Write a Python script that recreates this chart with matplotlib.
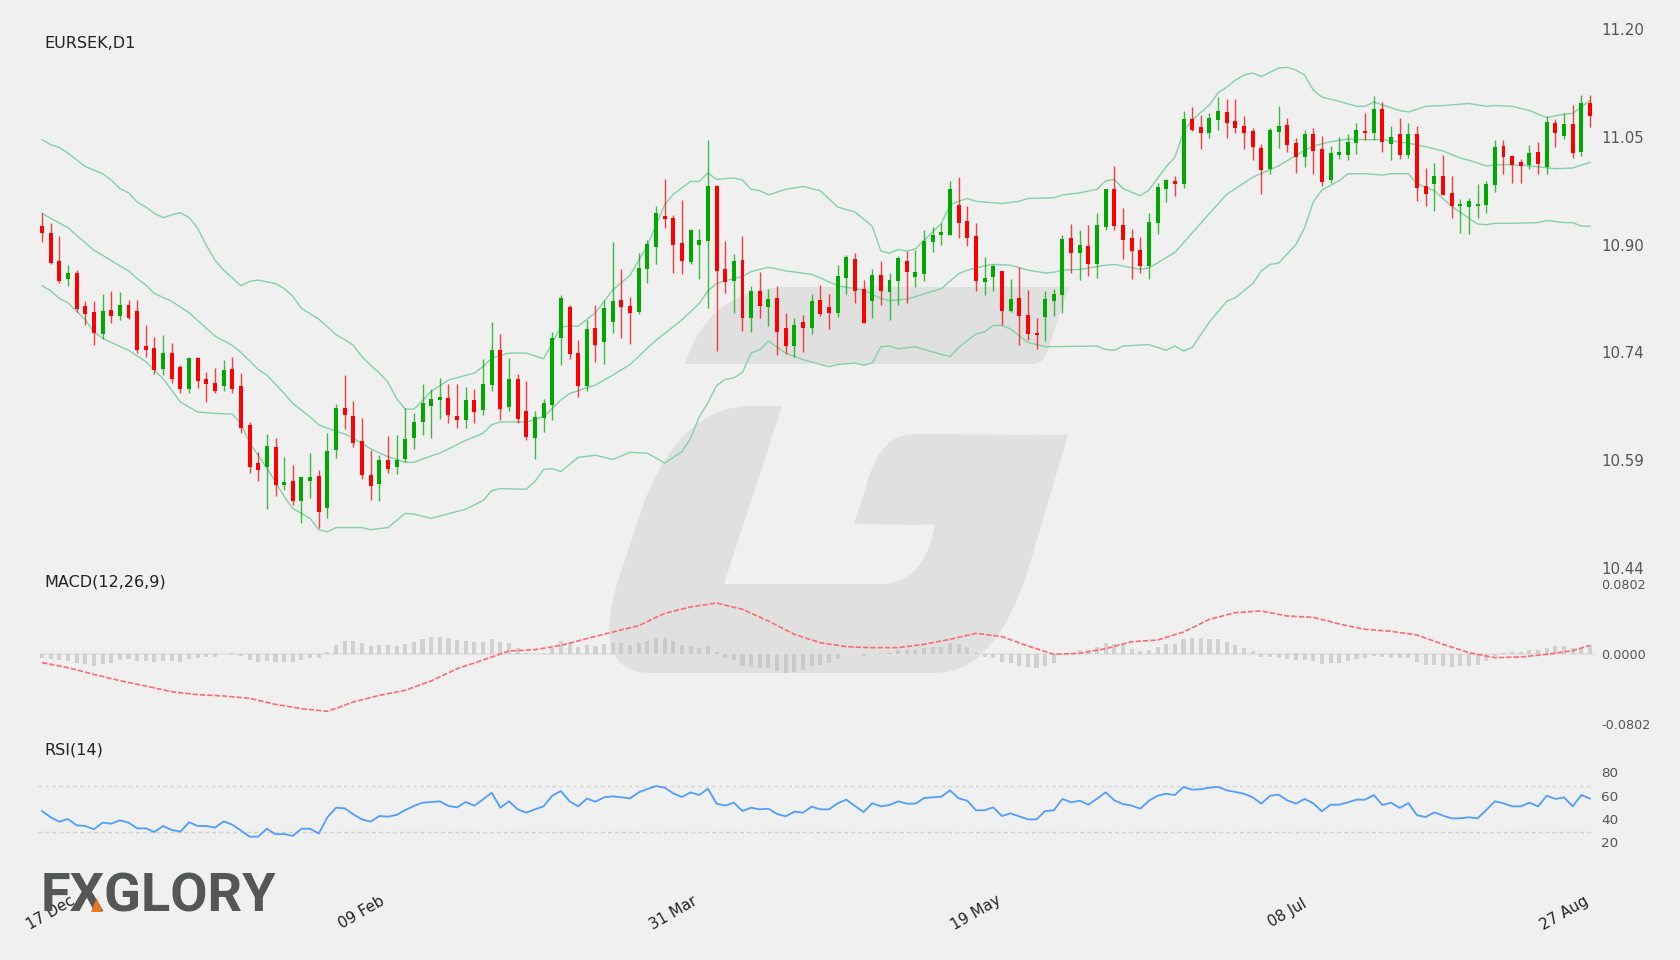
import numpy as np
import matplotlib
matplotlib.use("Agg")
import matplotlib.pyplot as plt
from matplotlib.patches import PathPatch, Polygon
from matplotlib.path import Path
from matplotlib.ticker import FormatStrFormatter

opens = [
    10.922,10.912,10.873,10.848,10.856,10.809,10.801,10.770,10.804,10.796,
    10.811,10.802,10.753,10.750,10.720,10.743,10.723,10.692,10.736,10.706,
    10.701,10.697,10.720,10.696,10.642,10.588,10.582,10.610,10.557,10.562,
    10.534,10.563,10.570,10.524,10.606,10.666,10.655,10.619,10.571,10.559,
    10.592,10.582,10.594,10.624,10.646,10.669,10.677,10.679,10.654,10.648,
    10.677,10.663,10.698,10.748,10.667,10.706,10.661,10.624,10.652,10.670,
    10.764,10.808,10.743,10.696,10.778,10.759,10.787,10.818,10.809,10.801,
    10.861,10.892,10.936,10.934,10.898,10.872,10.896,10.901,10.979,10.861,
    10.844,10.874,10.793,10.830,10.808,10.821,10.778,10.753,10.787,10.778,
    10.818,10.808,10.799,10.849,10.876,10.833,10.816,10.853,10.829,10.845,
    10.873,10.850,10.854,10.899,10.910,10.910,10.952,10.929,10.908,10.843,
    10.850,10.859,10.803,10.820,10.797,10.771,10.794,10.816,10.825,10.905,
    10.884,10.894,10.869,10.921,10.975,10.924,10.906,10.889,10.866,10.926,
    10.975,10.985,10.981,11.073,11.062,11.053,11.072,11.083,11.070,11.063,
    11.056,11.032,11.002,11.055,11.064,11.039,11.019,11.052,11.031,10.987,
    11.022,11.022,11.039,11.056,11.053,11.087,11.038,11.052,11.023,11.052,
    10.978,10.982,10.993,10.969,10.950,10.949,10.950,10.952,10.980,11.035,
    11.021,11.012,11.008,11.027,11.005,11.067,11.049,11.066,11.027,11.096,
]
closes = [
    10.912,10.870,10.844,10.856,10.805,10.798,10.772,10.803,10.795,10.811,
    10.793,10.748,10.748,10.719,10.743,10.707,10.692,10.736,10.704,10.699,
    10.690,10.719,10.693,10.637,10.582,10.578,10.612,10.557,10.561,10.535,
    10.568,10.568,10.519,10.605,10.666,10.656,10.616,10.571,10.555,10.592,
    10.579,10.592,10.622,10.646,10.672,10.678,10.681,10.656,10.648,10.677,
    10.660,10.700,10.747,10.664,10.707,10.650,10.625,10.653,10.672,10.765,
    10.820,10.742,10.696,10.777,10.755,10.807,10.817,10.808,10.800,10.863,
    10.897,10.941,10.932,10.896,10.873,10.917,10.903,10.978,10.859,10.843,
    10.873,10.793,10.830,10.810,10.819,10.773,10.753,10.782,10.778,10.817,
    10.798,10.799,10.852,10.878,10.831,10.785,10.853,10.831,10.846,10.877,
    10.857,10.857,10.901,10.910,10.914,10.974,10.927,10.906,10.845,10.849,
    10.866,10.803,10.819,10.796,10.770,10.769,10.819,10.826,10.904,10.884,
    10.896,10.869,10.924,10.975,10.922,10.902,10.887,10.866,10.928,10.977,
    10.987,10.982,11.073,11.057,11.054,11.074,11.084,11.067,11.060,11.053,
    11.034,11.001,11.058,11.063,11.037,11.019,11.052,11.028,10.984,11.025,
    11.027,11.040,11.057,11.054,11.087,11.040,11.048,11.023,11.052,10.976,
    10.968,10.993,10.966,10.950,10.953,10.957,10.953,10.981,11.033,11.020,
    11.008,11.007,11.025,11.010,11.069,11.054,11.066,11.025,11.095,11.077,
]
highs = [
    10.941,10.927,10.908,10.867,10.860,10.817,10.816,10.827,10.830,10.829,
    10.818,10.818,10.782,10.766,10.768,10.757,10.726,10.737,10.737,10.716,
    10.722,10.733,10.738,10.715,10.646,10.603,10.629,10.623,10.597,10.585,
    10.568,10.602,10.578,10.631,10.671,10.712,10.676,10.651,10.606,10.600,
    10.626,10.628,10.666,10.659,10.700,10.693,10.708,10.699,10.699,10.695,
    10.693,10.735,10.787,10.770,10.736,10.714,10.704,10.661,10.678,10.773,
    10.825,10.811,10.762,10.789,10.811,10.818,10.899,10.861,10.822,10.884,
    10.903,10.951,10.989,10.938,10.959,10.918,10.918,11.044,10.980,10.901,
    10.883,10.908,10.838,10.857,10.833,10.838,10.800,10.793,10.797,10.827,
    10.839,10.827,10.867,10.882,10.884,10.846,10.862,10.873,10.856,10.880,
    10.887,10.888,10.916,10.921,10.927,10.985,10.991,10.950,10.926,10.878,
    10.869,10.859,10.847,10.865,10.832,10.792,10.831,10.833,10.909,10.925,
    10.916,10.924,10.940,10.975,11.007,10.948,10.918,10.907,10.940,10.983,
    10.989,10.993,11.085,11.090,11.079,11.082,11.104,11.101,11.102,11.077,
    11.061,11.038,11.061,11.092,11.075,11.047,11.057,11.060,11.049,11.035,
    11.048,11.052,11.068,11.082,11.106,11.097,11.063,11.074,11.068,11.063,
    11.004,11.011,11.022,10.993,10.960,10.962,10.982,10.986,11.044,11.043,
    11.022,11.016,11.036,11.040,11.078,11.073,11.081,11.093,11.107,11.107,
]
lows = [
    10.899,10.869,10.842,10.837,10.801,10.782,10.755,10.763,10.786,10.790,
    10.791,10.743,10.738,10.714,10.712,10.701,10.687,10.687,10.694,10.674,
    10.687,10.689,10.687,10.631,10.574,10.563,10.523,10.542,10.550,10.529,
    10.503,10.538,10.497,10.510,10.595,10.636,10.611,10.566,10.536,10.534,
    10.574,10.573,10.589,10.608,10.628,10.624,10.650,10.645,10.637,10.637,
    10.645,10.656,10.689,10.648,10.661,10.645,10.620,10.594,10.632,10.648,
    10.726,10.735,10.681,10.690,10.731,10.727,10.771,10.764,10.756,10.798,
    10.842,10.869,10.919,10.856,10.855,10.868,10.847,10.806,10.746,10.828,
    10.799,10.774,10.773,10.792,10.781,10.741,10.742,10.738,10.745,10.770,
    10.795,10.777,10.794,10.827,10.814,10.785,10.792,10.811,10.789,10.811,
    10.813,10.836,10.844,10.886,10.896,10.910,10.906,10.894,10.830,10.825,
    10.830,10.782,10.801,10.754,10.762,10.749,10.760,10.796,10.799,10.856,
    10.846,10.852,10.849,10.916,10.916,10.876,10.848,10.856,10.848,10.911,
    10.956,10.965,10.976,11.056,11.031,11.047,11.058,11.047,11.053,11.031,
    11.015,10.968,10.995,11.032,11.027,10.997,11.006,10.996,10.978,10.983,
    11.017,11.015,11.024,11.044,11.044,11.027,11.015,11.017,11.018,10.958,
    10.950,10.943,10.966,10.934,10.912,10.911,10.933,10.941,10.970,10.996,
    10.983,10.983,11.003,10.996,10.996,11.034,11.045,11.018,11.021,11.062,
]

# bands were read at the days where they visibly bend
upper_days = [
    0,1,2,3,5,7,8,9,10,11,12,13,14,15,16,17,18,19,20,21,23,24,25,27,28,29,30,32,33,34,35,36,37,38,39,40,41,42,43,44,45,
    47,50,51,52,54,56,58,60,61,62,64,66,68,70,72,73,75,76,77,78,80,81,82,83,84,86,88,90,
    92,94,96,97,98,99,100,101,103,104,105,106,107,108,111,113,114,117,118,120,122,123,124,125,127,128,130,131,132,133,135,
    136,137,138,139,140,141,143,144,145,146,147,148,150,152,153,154,157,158,160,162,165,167,168,170,172,174,176,177,179,
]
bb_upper = [
    11.044,11.037,11.033,11.025,11.006,10.996,10.987,10.975,10.969,10.956,10.949,10.940,10.934,10.938,10.941,10.934,10.919,10.895,10.874,10.860,
    10.838,10.844,10.846,10.841,10.834,10.823,10.806,10.791,10.780,10.769,10.762,10.754,10.738,10.726,10.715,10.702,10.679,10.664,10.664,10.676,10.689,
    10.705,10.715,10.724,10.736,10.743,10.743,10.735,10.780,10.781,10.781,10.800,10.832,10.853,10.895,10.952,10.967,10.985,10.985,10.997,10.988,
    10.990,10.987,10.974,10.972,10.966,10.974,10.978,10.972,
    10.949,10.942,10.922,10.887,10.884,10.889,10.887,10.890,10.914,10.926,10.952,10.957,10.961,10.957,10.954,10.957,10.961,10.962,10.966,10.969,
    10.974,10.986,10.988,10.975,10.965,10.973,11.006,11.019,11.055,11.072,11.093,
    11.110,11.118,11.128,11.135,11.138,11.133,11.145,11.146,11.142,11.135,11.114,11.104,11.098,11.091,11.091,11.097,11.085,11.083,11.091,11.092,
    11.095,11.091,11.092,11.091,11.085,11.075,11.080,11.081,11.099,
]
middle_days = [
    0,1,3,4,6,7,9,10,11,12,13,15,17,18,20,22,23,25,26,28,29,31,32,33,35,36,38,40,42,43,45,
    46,49,51,52,53,56,58,60,61,64,66,68,70,71,74,76,77,78,79,81,82,84,86,89,90,
    92,95,97,98,100,104,106,107,109,110,112,114,116,117,118,120,123,124,127,128,131,135,
    137,140,143,146,147,149,151,153,155,158,160,162,164,165,167,169,172,175,177,179,
]
bb_middle = [
    10.940,10.933,10.920,10.909,10.888,10.881,10.866,10.859,10.848,10.839,10.827,10.816,10.800,10.789,10.767,10.754,10.744,10.720,10.712,10.686,
    10.672,10.653,10.642,10.637,10.629,10.623,10.608,10.597,10.589,10.589,10.598,
    10.602,10.620,10.630,10.642,10.646,10.646,10.653,10.677,10.686,10.698,10.712,10.727,10.750,10.761,10.790,10.813,10.831,10.841,10.845,10.851,
    10.858,10.864,10.859,10.854,10.849,
    10.838,10.832,10.820,10.817,10.819,10.834,10.855,10.860,10.866,10.868,10.867,10.860,10.856,10.857,10.860,10.861,10.867,10.868,10.861,10.863,
    10.885,10.940,
    10.967,10.991,11.007,11.029,11.035,11.041,11.045,11.044,11.044,11.039,11.034,11.028,11.018,11.015,11.007,11.009,11.007,11.003,11.004,11.012,
]
lower_days = [
    0,1,2,3,5,6,7,8,10,12,14,16,18,20,22,23,24,25,26,28,29,31,32,33,34,37,38,40,42,43,45,
    49,51,52,53,56,57,58,59,60,62,64,66,68,70,72,74,75,76,77,78,79,80,81,82,83,84,86,88,90,
    91,92,94,95,96,97,98,99,101,102,105,106,108,109,110,111,112,114,116,122,123,124,125,128,130,131,132,133,135,
    137,138,140,141,142,143,145,146,147,148,150,151,153,155,156,158,159,161,163,166,167,168,170,173,174,176,177,178,179,
]
bb_lower = [
    10.838,10.831,10.820,10.814,10.790,10.773,10.764,10.758,10.747,10.731,10.707,10.674,10.660,10.658,10.657,10.644,10.616,10.599,10.581,10.541,
    10.524,10.510,10.494,10.491,10.497,10.497,10.494,10.497,10.517,10.516,10.510,
    10.523,10.535,10.549,10.552,10.551,10.562,10.579,10.580,10.576,10.596,10.599,10.593,10.603,10.602,10.588,10.604,10.623,10.653,10.673,10.697,
    10.706,10.708,10.716,10.743,10.748,10.760,10.743,10.734,10.727,
    10.724,10.727,10.729,10.726,10.729,10.752,10.753,10.749,10.752,10.748,10.738,10.751,10.770,10.773,10.782,10.782,10.777,10.758,10.752,10.753,
    10.748,10.747,10.753,10.755,10.747,10.753,10.746,10.751,10.787,
    10.816,10.821,10.841,10.859,10.868,10.870,10.896,10.920,10.956,10.973,10.986,10.996,10.996,10.994,10.996,10.996,10.982,10.972,10.950,10.925,
    10.924,10.926,10.926,10.927,10.930,10.927,10.927,10.922,10.922,
]

macd_days = [*range(0, 178, 3), 179]
macd_line = [
    -0.0099,-0.0157,-0.0233,-0.0306,-0.0367,-0.0432,-0.0466,-0.0481,-0.0508,-0.0577,
    -0.0626,-0.0657,-0.0550,-0.0474,-0.0416,-0.0309,-0.0168,-0.0069,0.0034,0.0050,
    0.0099,0.0176,0.0252,0.0325,0.0466,0.0539,0.0584,0.0512,0.0378,0.0225,
    0.0130,0.0084,0.0073,0.0073,0.0111,0.0168,0.0237,0.0199,0.0092,-0.0004,
    0.0008,0.0061,0.0141,0.0160,0.0252,0.0397,0.0474,0.0493,0.0435,0.0420,
    0.0344,0.0283,0.0260,0.0218,0.0111,0.0015,-0.0042,-0.0034,-0.0004,0.0038,
    0.0099,
]
macd_hist = [
    -0.0042,-0.0061,-0.0073,-0.0080,-0.0099,-0.0118,-0.0134,-0.0118,-0.0099,-0.0069,
    -0.0061,-0.0084,-0.0084,-0.0092,-0.0084,-0.0084,-0.0092,-0.0053,-0.0042,-0.0038,
    -0.0034,0.0000,0.0011,-0.0023,-0.0073,-0.0092,-0.0076,-0.0092,-0.0096,-0.0096,
    -0.0069,-0.0046,-0.0042,0.0019,0.0103,0.0149,0.0149,0.0122,0.0096,0.0099,
    0.0099,0.0092,0.0115,0.0141,0.0176,0.0199,0.0199,0.0180,0.0157,0.0149,
    0.0134,0.0141,0.0168,0.0134,0.0122,0.0073,0.0015,0.0000,0.0015,0.0073,
    0.0149,0.0138,0.0084,0.0107,0.0092,0.0111,0.0122,0.0122,0.0103,0.0122,
    0.0153,0.0187,0.0187,0.0149,0.0103,0.0096,0.0065,0.0088,0.0019,-0.0050,
    -0.0069,-0.0134,-0.0153,-0.0164,-0.0164,-0.0195,-0.0214,-0.0206,-0.0187,-0.0141,
    -0.0122,-0.0107,-0.0061,0.0000,0.0000,-0.0023,0.0000,0.0008,0.0015,0.0042,
    0.0042,0.0046,0.0069,0.0084,0.0084,0.0130,0.0111,0.0084,0.0015,-0.0038,
    -0.0042,-0.0092,-0.0107,-0.0138,-0.0149,-0.0164,-0.0138,-0.0099,-0.0004,0.0015,
    0.0050,0.0050,0.0084,0.0130,0.0118,0.0111,0.0061,0.0031,0.0042,0.0084,
    0.0111,0.0115,0.0168,0.0180,0.0180,0.0168,0.0168,0.0141,0.0103,0.0073,
    0.0031,-0.0038,-0.0038,-0.0042,-0.0057,-0.0073,-0.0073,-0.0080,-0.0118,-0.0107,
    -0.0103,-0.0084,-0.0057,-0.0050,-0.0027,-0.0038,-0.0046,-0.0050,-0.0050,-0.0088,
    -0.0126,-0.0122,-0.0138,-0.0145,-0.0141,-0.0138,-0.0122,-0.0084,-0.0023,0.0008,
    0.0019,0.0027,0.0042,0.0042,0.0073,0.0092,0.0092,0.0073,0.0073,0.0099,
]
rsi = [
    48.3,42.9,39.1,41.4,36.0,35.4,32.6,38.3,37.4,40.3,
    38.3,33.4,33.4,30.3,35.4,32.0,30.6,38.6,35.4,35.4,
    34.0,39.4,36.6,31.4,26.3,26.3,33.1,28.3,28.6,26.9,
    33.1,33.1,28.9,42.9,51.1,50.6,45.4,41.1,39.1,44.0,
    43.4,44.9,49.1,52.6,55.4,56.0,56.6,52.6,51.4,56.0,
    52.9,58.3,64.0,51.1,56.6,49.7,46.9,49.7,52.3,61.4,
    65.4,56.6,52.3,58.9,56.3,60.0,60.9,60.0,59.1,64.3,
    67.1,69.7,68.3,63.4,60.3,64.3,62.0,67.4,54.6,52.9,
    55.4,48.3,51.1,49.7,50.3,45.7,43.7,47.7,46.9,52.0,
    49.7,49.7,54.9,58.0,52.6,47.4,54.9,52.3,53.4,56.6,
    54.6,54.6,59.4,60.0,60.6,66.0,59.1,57.1,48.9,48.9,
    51.4,44.0,46.3,43.7,41.1,41.1,48.3,48.9,58.6,55.7,
    57.1,53.7,58.9,64.3,57.4,54.3,52.9,50.3,57.1,61.4,
    63.1,62.0,68.9,66.6,66.9,68.3,68.9,66.0,64.6,63.1,
    60.0,54.6,61.4,62.3,57.4,54.6,58.6,54.9,48.0,53.7,
    53.7,55.7,58.0,58.0,62.0,53.4,55.4,50.9,55.1,44.6,
    43.1,47.1,44.3,42.0,42.0,42.9,42.0,49.1,56.6,54.9,
    52.3,52.3,55.4,52.3,61.4,58.6,60.0,52.3,62.0,58.9,
]
date_ticks = [1, 37, 73, 108, 144, 176]
date_labels = ["17 Dec", "09 Feb", "31 Mar", "19 May", "08 Jul", "27 Aug"]
price_ticks = np.linspace(10.44, 11.20, 6)
macd_ticks = [-0.0802, 0.0, 0.0802]
rsi_ticks = [20, 40, 60, 80]

BG = "#f0f0f0"
TEXT = "#222222"
TICK = "#555555"
WIDTH, HEIGHT = 1680, 960


def pixel_axes(fig, top, bottom, left=37.7, right=1594.3, **kw):
    return fig.add_axes(
        [left / WIDTH, 1 - bottom / HEIGHT, (right - left) / WIDTH, (bottom - top) / HEIGHT],
        **kw,
    )


def setup_panel(ax, ticks):
    ax.set_facecolor("none")
    ax.set_xlim(-0.5, 179.5)
    for spine in ax.spines.values():
        spine.set_visible(False)
    ax.yaxis.tick_right()
    ax.set_yticks(ticks)
    ax.set_xticks([])
    ax.tick_params(axis="both", length=0, colors=TICK, pad=5.0)


def draw_watermark(ax):
    M, L, C, Z = Path.MOVETO, Path.LINETO, Path.CURVE4, Path.CLOSEPOLY
    top_verts = [
        (685, 364), (700, 315), (735, 287), (790, 287), (1069, 287), (1047, 352),
        (1044, 360), (1040, 364), (1030, 364), (685, 364),
    ]
    top_codes = [M, C, C, C, L, L, C, C, C, Z]
    low_verts = [
        (782, 406), (745, 406), (695, 410), (665, 450), (645, 500), (618, 580),
        (600, 640), (610, 673), (650, 673), (935, 673), (985, 673), (1010, 620),
        (1025, 580), (1068, 435), (915, 434), (885, 434), (873, 460), (865, 490),
        (854, 524), (935, 525), (930, 545), (920, 570), (905, 584), (880, 584),
        (724, 584), (782, 406),
    ]
    low_codes = [M, L, C, C, C, L, C, C, C, L, C, C, C, L, L, C, C, C, L, L, L, C, C, C, L, Z]
    path = Path(top_verts + low_verts, top_codes + low_codes)
    ax.add_patch(PathPatch(path, facecolor="#e0e0e0", edgecolor="none"))


def main():
    fig = plt.figure(figsize=(WIDTH / 100, HEIGHT / 100), dpi=100, facecolor=BG)

    back = fig.add_axes([0, 0, 1, 1], zorder=-1)
    back.set_xlim(0, WIDTH)
    back.set_ylim(HEIGHT, 0)
    back.axis("off")
    draw_watermark(back)

    days = np.arange(len(closes))
    o, h, l, c = map(np.array, (opens, highs, lows, closes))
    colors = np.where(c >= o, "#00a800", "#ff0000")

    ax = pixel_axes(fig, 29, 568)
    setup_panel(ax, price_ticks)
    ax.set_ylim(10.44, 11.20)
    ax.yaxis.set_major_formatter(FormatStrFormatter("%.2f"))
    ax.tick_params(axis="y", labelsize=10.8)
    ax.plot(upper_days, bb_upper, color="#82d2a5", lw=1.0, zorder=1)
    ax.plot(middle_days, bb_middle, color="#82d2a5", lw=1.0, zorder=1)
    ax.plot(lower_days, bb_lower, color="#82d2a5", lw=1.0, zorder=1)
    ax.vlines(days, l, h, colors=colors, lw=1.0, alpha=0.75, zorder=2)
    ax.bar(days, np.abs(c - o), bottom=np.minimum(o, c), width=0.46, color=colors, zorder=3)

    ax_macd = pixel_axes(fig, 584, 724)
    setup_panel(ax_macd, macd_ticks)
    ax_macd.set_ylim(-0.0802, 0.0802)
    ax_macd.yaxis.set_major_formatter(FormatStrFormatter("%.4f"))
    ax_macd.tick_params(axis="y", labelsize=9.2)
    ax_macd.axhline(0, xmin=0.002, color="#e2e2e2", lw=1.3, zorder=1)
    ax_macd.bar(days, macd_hist, width=0.47, color="#b8b8b8", alpha=0.55, zorder=1)
    ax_macd.plot(macd_days, macd_line, color="#ff6a70", lw=1.2, ls=(0, (3.2, 1.2)), zorder=2)

    # guide lines sit a little under where the tick labels would put them
    ax_rsi = pixel_axes(fig, 768.2, 846.3)
    setup_panel(ax_rsi, [t + 1.5 for t in rsi_ticks])
    ax_rsi.set_yticklabels(rsi_ticks)
    ax_rsi.set_ylim(18, 85)
    ax_rsi.tick_params(axis="y", labelsize=9.7)
    ax_rsi.axhline(70, color="#d4d4d4", lw=1.0, ls=(0, (2.5, 2.5)))
    ax_rsi.axhline(30, color="#d0d0d0", lw=1.0, ls=(0, (3, 2)))
    ax_rsi.plot(days, rsi, color="#4f9dff", lw=1.3)
    ax_rsi.set_xticks(date_ticks)
    ax_rsi.set_xticklabels(date_labels, rotation=30, ha="center", va="center", fontsize=10.8, color=TEXT)
    ax_rsi.tick_params(axis="x", pad=48)

    fig.text(44 / WIDTH, 1 - 43.5 / HEIGHT, "EURSEK,D1", fontsize=11.5, color=TEXT, va="center")
    fig.text(44 / WIDTH, 1 - 582 / HEIGHT, "MACD(12,26,9)", fontsize=11.5, color=TEXT, va="center")
    fig.text(44 / WIDTH, 1 - 750 / HEIGHT, "RSI(14)", fontsize=11.5, color=TEXT, va="center")

    # logo sits over the first date label
    top = fig.add_axes([0, 0, 1, 1], zorder=10)
    top.set_xlim(0, WIDTH)
    top.set_ylim(HEIGHT, 0)
    top.axis("off")
    top.text(41, 912, "FXGLORY", family="Roboto", fontweight="bold", fontsize=39,
             color="#555757", va="baseline", ha="left")
    top.add_patch(Polygon([(96.7, 898), (91, 912), (102.7, 912)], facecolor="#e87722",
                          edgecolor="none", zorder=5))

    fig.savefig("out.png", dpi=100, facecolor=BG)
    plt.close(fig)


if __name__ == "__main__":
    main()
